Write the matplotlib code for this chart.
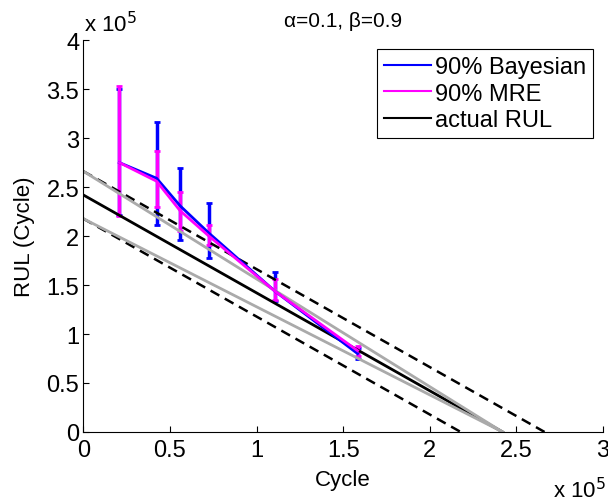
import numpy as np
import matplotlib
matplotlib.use('Agg')
from matplotlib import pyplot as plt
from matplotlib.lines import Line2D

plt.rcParams['font.family'] = ['Liberation Sans', 'DejaVu Sans']

# prediction cycles (x 1e5)
cycles = [0.208, 0.423, 0.558, 0.725, 1.104, 1.583]

# Bayesian 90% interval (x 1e5)
bay_med = [2.75, 2.59, 2.31, 2.03, 1.44, 0.80]
bay_lo = [2.22, 2.115, 1.96, 1.78, 1.34, 0.75]
bay_hi = [3.50, 3.16, 2.69, 2.34, 1.636, 0.86]

# MRE 90% interval (x 1e5)
mre_med = [2.75, 2.56, 2.26, 2.00, 1.44, 0.83]
mre_lo = [2.20, 2.30, 2.05, 1.91, 1.35, 0.78]
mre_hi = [3.53, 2.87, 2.45, 2.115, 1.56, 0.88]

# actual RUL, end of life (x 1e5)
eol = 2.42
alpha = 0.1
beta = 0.9

fig = plt.figure(figsize=(6.08, 5.02), dpi=100)
ax = fig.add_axes([0.137, 0.1375, 0.855, 0.7805])

x = np.array(cycles)
for med, lo, hi, col in [(bay_med, bay_lo, bay_hi, 'blue'),
                         (mre_med, mre_lo, mre_hi, 'magenta')]:
    med = np.array(med)
    err = [med - np.array(lo), np.array(hi) - med]
    ax.errorbar(x, med, yerr=err, color=col, lw=2, elinewidth=2.5,
                capsize=2.5, capthick=2)

xa = np.array([0, eol])
ax.plot(xa, eol - xa, color='black', lw=2)

# +/- alpha bounds (constant offset)
off = alpha * eol
for s in (1, -1):
    xd = np.array([0, eol + s * off])
    ax.plot(xd, eol + s * off - xd, color='black', lw=1.8, dashes=(4, 2.5))

# alpha-lambda cone
for s in (1, -1):
    ax.plot(xa, (1 + s * alpha) * (eol - xa), color='#aaaaaa', lw=2)

ax.set_xlim(0, 3)
ax.set_ylim(0, 4)
ax.set_xticks(np.arange(0, 3.01, 0.5))
ax.set_xticklabels(['0', '0.5', '1', '1.5', '2', '2.5', '3'])
ax.set_yticks(np.arange(0, 4.01, 0.5))
ax.set_yticklabels(['0', '0.5', '1', '1.5', '2', '2.5', '3', '3.5', '4'])
ax.spines['top'].set_visible(False)
ax.spines['right'].set_visible(False)
ax.tick_params(direction='in', length=4, labelsize=17)
ax.tick_params(axis='x', pad=5)
ax.tick_params(axis='y', pad=3)

ax.set_xlabel('Cycle', fontsize=16, labelpad=6)
ax.set_ylabel('RUL (Cycle)', fontsize=16, labelpad=8)
ax.set_title('\u03b1=%.1f, \u03b2=%.1f' % (alpha, beta), fontsize=15,
             pad=10)

fig.text(0.138, 0.935, r'x 10$^5$', fontsize=16)
fig.text(0.91, 0.008, r'x 10$^5$', fontsize=16)

handles = [Line2D([], [], color='blue', lw=1.5),
           Line2D([], [], color='magenta', lw=1.5),
           Line2D([], [], color='black', lw=1.5)]
leg = ax.legend(handles, ['90% Bayesian', '90% MRE', 'actual RUL'],
                loc='upper right', bbox_to_anchor=(0.99, 0.99),
                fontsize=17, fancybox=False, framealpha=1,
                edgecolor='black', handlelength=2.0, handletextpad=0.15,
                borderpad=0.3, labelspacing=0.2, borderaxespad=0.2)
leg.get_frame().set_linewidth(0.8)

fig.savefig('out.png', dpi=100)
